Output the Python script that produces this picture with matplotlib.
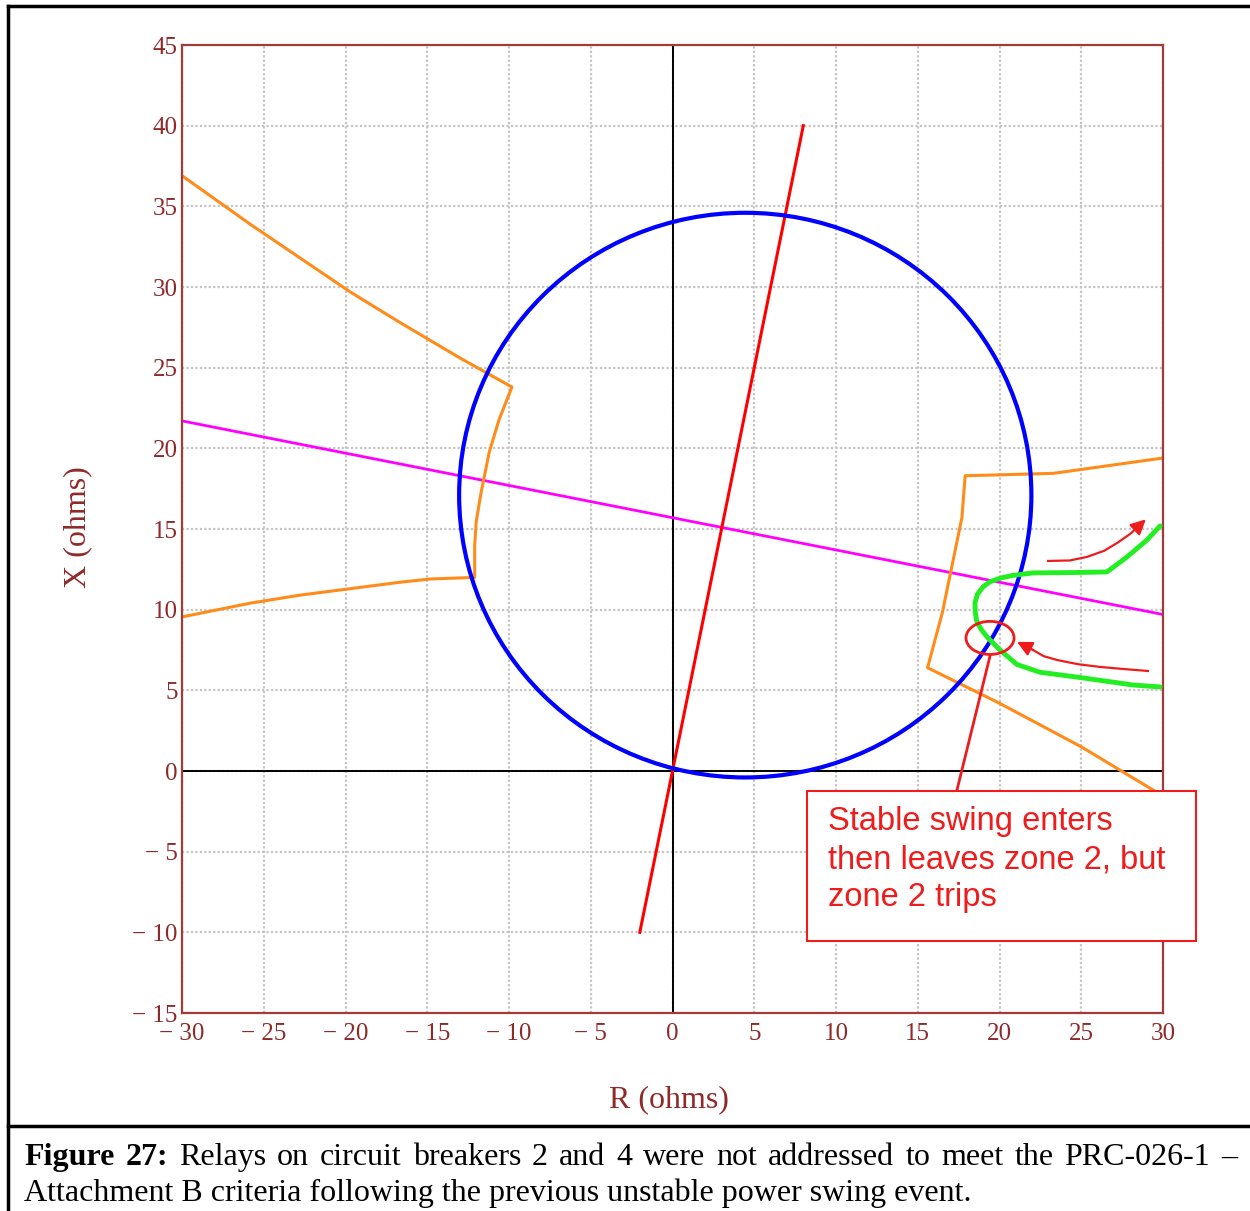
import numpy as np
import matplotlib
matplotlib.use('Agg')
import matplotlib.pyplot as plt
from matplotlib.patches import Circle, Ellipse, Rectangle

W, H = 1250, 1211

# ---- data (ohms) ----
circle_center = (4.45, 17.1)
circle_radius = 17.5

red_r = [-2.0, 8.0]
red_x = [-10.0, 40.0]

magenta_r = [-30.0, 30.0]
magenta_x = [21.7, 9.7]

orange_left_r = [-30.0, -25.84, -22.78, -19.72, -16.67, -13.0, -9.82, -10.6, -11.2, -11.7,
                 -12.0, -12.1, -12.1, -14.83, -16.67, -19.72, -22.78, -25.84, -30.0]
orange_left_x = [36.9, 33.9, 31.8, 29.7, 27.8, 25.6, 23.8, 21.8, 19.8, 17.3,
                 15.5, 14.0, 12.0, 11.9, 11.7, 11.3, 10.9, 10.4, 9.55]

orange_right_r = [30.0, 23.3, 17.9, 17.7, 16.5, 15.6, 20.0, 25.0, 30.0]
orange_right_x = [19.4, 18.45, 18.3, 15.7, 9.8, 6.4, 4.2, 1.5, -1.55]

swing_r = [29.82, 29.02, 27.80, 26.57, 24.5, 22.05, 20.8, 20.03, 19.4, 18.99, 18.65, 18.50,
           18.52, 18.62, 18.9, 19.24, 20.03, 21.07, 22.48, 25.11, 28.17, 29.82]
swing_x = [15.19, 14.32, 13.27, 12.34, 12.3, 12.28, 12.12, 11.95, 11.72, 11.41, 10.95, 10.42,
           9.8, 9.24, 8.75, 8.31, 7.50, 6.60, 6.12, 5.77, 5.33, 5.21]

arrow_out_r = [22.97, 24.3, 25.35, 26.4, 27.19, 28.0, 28.72, 28.95]
arrow_out_x = [13.02, 13.05, 13.27, 13.65, 14.13, 14.7, 15.38, 15.60]
arrow_in_r = [29.08, 27.6, 26.15, 24.8, 23.52, 22.7, 22.05, 21.07]
arrow_in_x = [6.20, 6.32, 6.45, 6.62, 6.88, 7.12, 7.50, 8.0]

pointer_r = [19.42, 17.4]
pointer_x = [7.13, -1.18]

ticks = np.arange(-30, 31, 5)
yticks = np.arange(-15, 46, 5)

maroon = '#8e2a2a'
serif = ['Liberation Serif', 'DejaVu Serif']

fig = plt.figure(figsize=(W / 100, H / 100), dpi=100)
ax = fig.add_axes([182 / W, 1 - 1013 / H, 981 / W, 968 / H])

ax.set_xlim(-30, 30)
ax.set_ylim(-15, 45)
ax.set_xticks(ticks)
ax.set_yticks(yticks)
fmt = lambda v: ('\u2212 %d' % -v) if v < 0 else '%d' % v
ax.set_xticklabels([fmt(v) for v in ticks])
ax.set_yticklabels([fmt(v) for v in yticks])
ax.tick_params(length=0, labelsize=18, labelcolor=maroon)
ax.tick_params(axis='x', pad=7)
ax.tick_params(axis='y', pad=3)
for lab in ax.get_xticklabels() + ax.get_yticklabels():
    lab.set_family(serif)
for s in ax.spines.values():
    s.set_color('#a33b3b')
    s.set_linewidth(1.6)
ax.grid(True, color='#c4c4c4', linestyle=(0, (1, 1)), lw=1.6)
ax.set_axisbelow(True)

ax.axhline(0, color='black', lw=1.4, zorder=1)
ax.axvline(0, color='black', lw=1.4, zorder=1)

ax.plot(magenta_r, magenta_x, color='#ff00ff', lw=2.0, zorder=2)
ax.plot(orange_left_r, orange_left_x, color='#ff8c1a', lw=2.2, zorder=2)
ax.plot(orange_right_r, orange_right_x, color='#ff8c1a', lw=2.2, zorder=2)
ax.plot(red_r, red_x, color='#ff0000', lw=2.2, zorder=3)
ax.add_patch(Circle(circle_center, circle_radius, fill=False, ec='#0000ff', lw=3.0, zorder=3))
ax.plot(swing_r, swing_x, color='#22ee22', lw=3.5, zorder=4,
        solid_capstyle='round', solid_joinstyle='round')

# hand-drawn annotations
ann_red = '#ee1c1c'
ax.add_patch(Ellipse((19.42, 8.25), 2.94, 2.05, fill=False, ec=ann_red, lw=2.0, zorder=5))
for rr, xx in [(arrow_out_r, arrow_out_x), (arrow_in_r, arrow_in_x)]:
    ax.plot(rr[:-1], xx[:-1], color=ann_red, lw=1.6, zorder=5, solid_joinstyle='round')
    ax.annotate('', xy=(rr[-1], xx[-1]), xytext=(rr[-2], xx[-2]),
                arrowprops=dict(arrowstyle='-|>,head_length=0.9,head_width=0.45',
                                color=ann_red, lw=1.6, shrinkA=0, shrinkB=0), zorder=5)
ax.plot(pointer_r, pointer_x, color=ann_red, lw=2.0, zorder=5, clip_on=False)

ax.add_patch(Rectangle((8.23, -10.54), 23.79, 9.3, fc='white', ec=ann_red, lw=1.5,
                       zorder=6, clip_on=False))
ax.text(9.5, -2.2, 'Stable swing enters\nthen leaves zone 2, but\nzone 2 trips',
        color=ann_red, fontsize=23.5, family=['Liberation Sans', 'DejaVu Sans'],
        va='top', ha='left', linespacing=1.28, zorder=7)

# axis titles
fig.text(78 / W, 1 - 527 / H, 'X (ohms)', rotation=90, ha='center', va='center',
         color=maroon, fontsize=23, family=serif)
fig.text(669 / W, 1 - 1100 / H, 'R (ohms)', ha='center', va='center',
         color=maroon, fontsize=23, family=serif)

# frame lines
frame = dict(color='black', lw=2.5, transform=fig.transFigure)
fig.add_artist(plt.Line2D([8 / W, 1], [1 - 6 / H, 1 - 6 / H], **frame))
fig.add_artist(plt.Line2D([8 / W, 8 / W], [0, 1 - 6 / H], **frame))
fig.add_artist(plt.Line2D([8 / W, 1], [1 - 1126 / H, 1 - 1126 / H], **frame))

# caption, first line justified
cap_size = 23
words1 = [('Figure', 'bold'), ('27:', 'bold'), ('Relays', 'normal'), ('on', 'normal'),
          ('circuit', 'normal'), ('breakers', 'normal'), ('2', 'normal'), ('and', 'normal'),
          ('4', 'normal'), ('were', 'normal'), ('not', 'normal'), ('addressed', 'normal'),
          ('to', 'normal'), ('meet', 'normal'), ('the', 'normal'), ('PRC-026-1', 'normal'),
          ('\u2013', 'normal')]
texts = [fig.text(0, 1 - 1165 / H, w, fontsize=cap_size, weight=wt, family=serif,
                  va='baseline', ha='left') for w, wt in words1]
fig.canvas.draw()
r = fig.canvas.get_renderer()
widths = [t.get_window_extent(r).width for t in texts]
left, right = 24, 1237
gap = (right - left - sum(widths)) / (len(texts) - 1)
x = left
for t, w in zip(texts, widths):
    t.set_x(x / W)
    x += w + gap
fig.text(24 / W, 1 - 1201 / H,
         'Attachment B criteria following the previous unstable power swing event.',
         fontsize=cap_size, family=serif, va='baseline', ha='left')

fig.savefig('out.png', dpi=100)
